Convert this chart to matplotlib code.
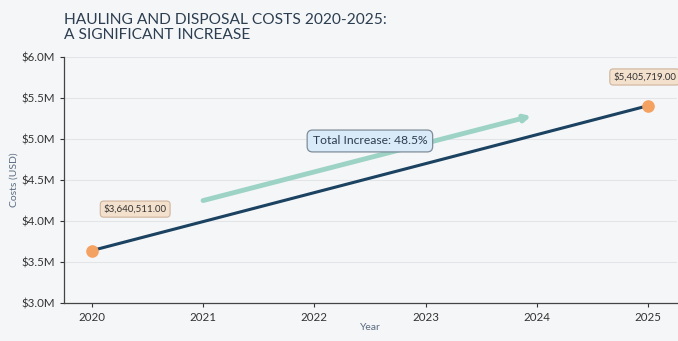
import matplotlib.pyplot as plt
from matplotlib.ticker import FuncFormatter

years = [2020, 2025]
costs = [3640511.00, 5405719.00]
cost_labels = ["$3,640,511.00", "$5,405,719.00"]
increase_text = "Total Increase: 48.5%"
trend_start = (2021, 4.25e6)
trend_end = (2023.95, 5.28e6)

plt.rcParams['font.family'] = ['Lato', 'DejaVu Sans']
bg = '#f5f6f8'

fig = plt.figure(figsize=(6.78, 3.41), dpi=100, facecolor=bg)
ax = fig.add_axes([0.0944, 0.111, 0.904, 0.722], facecolor=bg)

ax.plot(years, costs, color='#1b4260', lw=2.2, zorder=3)
ax.scatter(years, costs, s=65, color='#f4a261', zorder=4)

ax.annotate('', xy=trend_end, xytext=trend_start,
            arrowprops=dict(arrowstyle='-|>,head_length=0.35,head_width=0.18',
                            color='#9dd3c5', lw=3.5, shrinkA=0, shrinkB=0),
            zorder=2)

tan_box = dict(boxstyle='round,pad=0.35', fc='#f3e0cd', ec='#cfb49c', lw=0.8)
ax.text(2020.39, 4.146e6, cost_labels[0], fontsize=7, color='#333333',
        ha='center', va='center', bbox=tan_box, zorder=5)
ax.text(2024.97, 5.756e6, cost_labels[1], fontsize=7, color='#333333',
        ha='center', va='center', bbox=tan_box, zorder=5)
ax.text(2022.5, 4.976e6, increase_text, fontsize=8.7, color='#2c3e50',
        ha='center', va='center', zorder=5,
        bbox=dict(boxstyle='round,pad=0.45', fc='#d9ebf8', ec='#7f8c99', lw=0.9))

ax.set_xlim(2019.75, 2025.26)
ax.set_ylim(3.0e6, 6.0e6)
ax.set_xticks(range(2020, 2026))
ax.set_yticks([3.0e6 + 0.5e6 * i for i in range(7)])
ax.yaxis.set_major_formatter(FuncFormatter(lambda v, p: f"${v / 1e6:.1f}M"))
ax.tick_params(labelsize=8.3, colors='#333333', length=3, width=0.8)
ax.grid(axis='y', color='#e2e4e8', lw=0.8)
ax.set_axisbelow(True)
for s in ['top', 'right']:
    ax.spines[s].set_visible(False)
for s in ['left', 'bottom']:
    ax.spines[s].set_color('#444444')
    ax.spines[s].set_linewidth(0.9)

ax.set_xlabel('Year', fontsize=7.5, color='#5a6b80', labelpad=0)
ax.set_ylabel('Costs (USD)', fontsize=7.5, color='#5a6b80', labelpad=2)

fig.text(0.095, 0.962, 'HAULING AND DISPOSAL COSTS 2020-2025:\nA SIGNIFICANT INCREASE',
         fontsize=11.2, color='#2c3e50', ha='left', va='top', linespacing=1.1)

fig.savefig('out.png', dpi=100, facecolor=bg)
